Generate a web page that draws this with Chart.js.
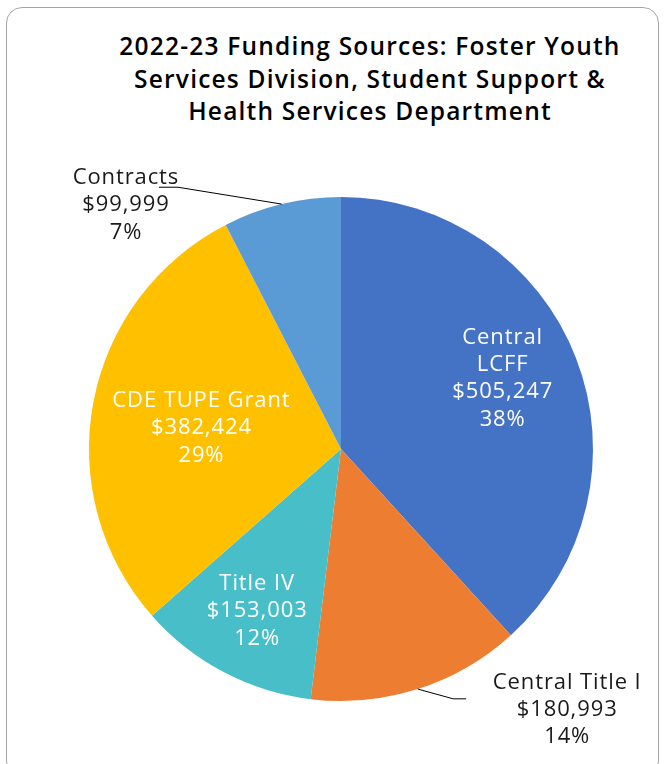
<!DOCTYPE html>
<html>
<head>
<meta charset="utf-8">
<script src="https://cdn.jsdelivr.net/npm/chart.js@4"></script>
<style>
  html, body { margin: 0; padding: 0; background: #fff; }
  #wrap { position: relative; width: 666px; height: 764px; overflow: hidden; }
  #frame { position: absolute; left: 6px; top: 7px; width: 653px; height: 770px;
           border: 1.5px solid #a6a6a6; border-radius: 16px; box-sizing: border-box; }
  #title { position: absolute; left: 70px; width: 600px; top: 30px; text-align: center;
           font: 600 24.5px "Open Sans", sans-serif; letter-spacing: 1.2px; line-height: 32.5px; color: #000; }
  canvas { position: absolute; left: 0; top: 0; }
</style>
</head>
<body>
<div id="wrap">
  <div id="frame"></div>
  <div id="title">2022-23 Funding Sources: Foster Youth<br>Services Division, Student Support &amp;<br>Health Services Department</div>
  <canvas id="pie" width="666" height="764"></canvas>
</div>
<script>
// datos
const categorias = ['Central LCFF', 'Central Title I', 'Title IV', 'CDE TUPE Grant', 'Contracts'];
const montos     = [505247, 180993, 153003, 382424, 99999];
const porcentajes = [38, 14, 12, 29, 7];
const colores    = ['#4472C4', '#ED7D31', '#48BFC8', '#FFC000', '#5B9BD5'];

// dónde va cada etiqueta: factor de radio, giro en grados, líneas del nombre, color
const etiquetas = [
  { r: 0.70, da: -2.4,  lineas: ['Central', 'LCFF'], color: '#fff' },
  { r: 1.37, da: -23.2, lineas: ['Central Title I'], color: '#1a1a1a', guia: [[-114, -11], [-101, -11]] },
  { r: 0.724, da: -0.4, lineas: ['Title IV'], color: '#fff' },
  { r: 0.56, da: -2.2,  lineas: ['CDE TUPE Grant'], color: '#fff' },
  { r: 1.29, da: -27.8, lineas: ['Contracts'], color: '#1a1a1a', guia: [[52, -18], [33, -18]] },
];

const fmt = n => '$' + n.toLocaleString('en-US');

const pluginEtiquetas = {
  id: 'etiquetas',
  afterDatasetsDraw(chart) {
    const ctx = chart.ctx;
    const arcs = chart.getDatasetMeta(0).data;
    ctx.save();
    ctx.font = '22px "Open Sans", sans-serif';
    ctx.letterSpacing = '0.9px';
    ctx.textAlign = 'center';
    ctx.textBaseline = 'middle';
    arcs.forEach((arc, i) => {
      const p = arc.getProps(['x', 'y', 'startAngle', 'endAngle', 'outerRadius'], true);
      const mid = (p.startAngle + p.endAngle) / 2;
      const e = etiquetas[i];
      const a = mid + e.da * Math.PI / 180;
      const cx = p.x + Math.cos(a) * p.outerRadius * e.r;
      const cy = p.y + Math.sin(a) * p.outerRadius * e.r;
      const lineas = [...e.lineas, fmt(montos[i]), porcentajes[i] + '%'];
      const lh = 27.3;
      const y0 = cy - (lineas.length - 1) * lh / 2;

      if (e.guia) {
        ctx.strokeStyle = '#000';
        ctx.lineWidth = 1;
        ctx.beginPath();
        ctx.moveTo(p.x + Math.cos(mid) * p.outerRadius, p.y + Math.sin(mid) * p.outerRadius);
        e.guia.forEach(([dx, dy]) => ctx.lineTo(cx + dx, cy + dy));
        ctx.stroke();
      }
      ctx.fillStyle = e.color;
      lineas.forEach((t, k) => ctx.fillText(t, cx, y0 + k * lh));
    });
    ctx.restore();
  }
};

new Chart(document.getElementById('pie'), {
  type: 'pie',
  data: {
    labels: categorias,
    datasets: [{ data: montos, backgroundColor: colores, borderWidth: 0 }]
  },
  options: {
    responsive: false,
    animation: false,
    layout: { padding: { left: 89, right: 73, top: 197, bottom: 63 } },
    plugins: { legend: { display: false }, tooltip: { enabled: false }, title: { display: false } }
  },
  plugins: [pluginEtiquetas]
});
</script>
</body>
</html>
